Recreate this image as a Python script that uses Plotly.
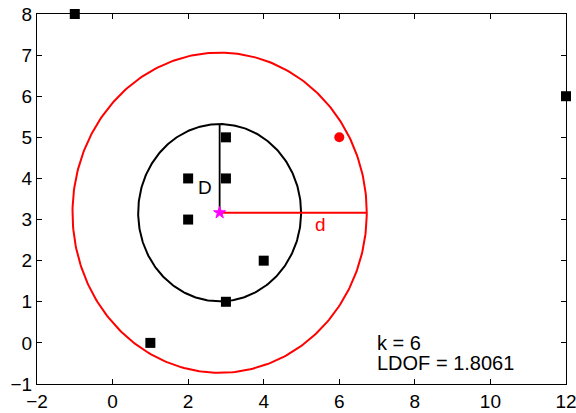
import numpy as np
import plotly.graph_objects as go

# Sample data set and the query point whose LDOF is illustrated
pts_x = [-1, 12, 1, 2, 2, 3, 3, 4, 3]
pts_y = [8, 6, 0, 4, 3, 5, 4, 2, 1]
query_x = [6]
query_y = [5]
k = 6

x_ticks = [-2, 0, 2, 4, 6, 8, 10, 12]
y_ticks = [-1, 0, 1, 2, 3, 4, 5, 6, 7, 8]

# --- LDOF computation -------------------------------------------------------
P = np.column_stack([pts_x, pts_y]).astype(float)
q = np.array([query_x[0], query_y[0]], dtype=float)
dist = np.hypot(*(P - q).T)
nn = P[np.argsort(dist)[:k]]
center = nn.mean(axis=0)
d_bar = np.sort(dist)[:k].mean()                       # kNN distance
pair = [np.hypot(*(nn[i] - nn[j])) for i in range(k) for j in range(i + 1, k)]
D_bar = float(np.mean(pair))                           # kNN inner distance
ldof = d_bar / D_bar

theta = np.linspace(0, 2 * np.pi, 361)
cx, cy = center

FONT = "Liberation Sans, Arial, sans-serif"

fig = go.Figure()

# circles of radius d (red) and D (black) around the neighbourhood centre
fig.add_trace(go.Scatter(x=cx + d_bar * np.cos(theta), y=cy + d_bar * np.sin(theta),
                         mode="lines", line=dict(color="#ff0000", width=2)))
fig.add_trace(go.Scatter(x=cx + D_bar * np.cos(theta), y=cy + D_bar * np.sin(theta),
                         mode="lines", line=dict(color="#000000", width=2)))
# radius segments
fig.add_trace(go.Scatter(x=[cx, cx + d_bar], y=[cy, cy], mode="lines",
                         line=dict(color="#ff0000", width=2)))
fig.add_trace(go.Scatter(x=[cx, cx], y=[cy, cy + D_bar], mode="lines",
                         line=dict(color="#000000", width=1.8)))

# data points
fig.add_trace(go.Scatter(x=pts_x, y=pts_y, mode="markers", cliponaxis=False,
                         marker=dict(symbol="square", size=10, color="#000000")))
# query point
fig.add_trace(go.Scatter(x=query_x, y=query_y, mode="markers", cliponaxis=False,
                         marker=dict(symbol="circle", size=10, color="#ff0000")))
# neighbourhood centre
fig.add_trace(go.Scatter(x=[cx], y=[cy], mode="markers",
                         marker=dict(symbol="star", size=9, color="#ff00ff",
                                     line=dict(color="#ff00ff", width=1))))

ann = [
    dict(x=2.44, y=3.79, text="D", font=dict(size=19, color="#000000")),
    dict(x=5.49, y=2.89, text="d", font=dict(size=19, color="#ff0000")),
    dict(x=6.95, y=0.0, text=f"k = {k}", xanchor="left",
         font=dict(size=20, color="#000000")),
    dict(x=6.95, y=-0.5, text=f"LDOF = {ldof:.4f}", xanchor="left",
         font=dict(size=20, color="#000000")),
]
for a in ann:
    a.setdefault("xanchor", "center")
    fig.add_annotation(xref="x", yref="y", showarrow=False, yanchor="middle", **a)

axis_common = dict(showgrid=False, zeroline=False, showline=True, mirror="ticks",
                   linecolor="#000000", linewidth=1, ticks="inside", ticklen=5,
                   tickcolor="#000000", tickwidth=1, automargin=False,
                   ticklabeloverflow="allow",
                   tickfont=dict(family=FONT, size=19, color="#000000"))

fig.update_xaxes(range=[-2, 12], tickvals=x_ticks, **axis_common)
fig.update_yaxes(range=[-1, 8], tickvals=y_ticks, **axis_common)

fig.update_layout(
    width=576, height=413,
    margin=dict(l=37, r=10, t=14, b=29),
    paper_bgcolor="#ffffff", plot_bgcolor="#ffffff",
    showlegend=False,
    font=dict(family=FONT, color="#000000"),
)

fig.write_html("out.html")
